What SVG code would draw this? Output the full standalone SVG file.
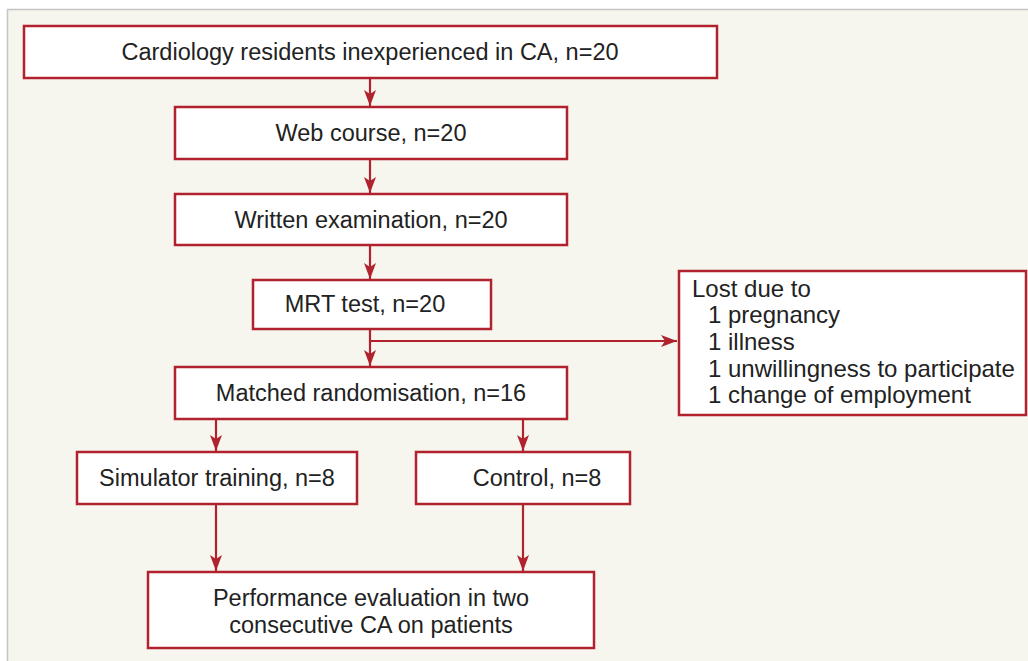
<svg xmlns="http://www.w3.org/2000/svg" width="1028" height="661" viewBox="0 0 1028 661">
<style>
.box{fill:#fff;stroke:#b0222e;stroke-width:2.5}
.t{font-family:"Liberation Sans",Arial,sans-serif;font-size:23.5px;fill:#222}
.c{text-anchor:middle}
.ln{stroke:#b0222e;stroke-width:2.2;fill:none}
</style>
<defs>
<marker id="ah" viewBox="0 0 16 12" refX="16" refY="6" markerWidth="16" markerHeight="12" orient="auto" markerUnits="userSpaceOnUse">
<path d="M0,0 L16,6 L0,12 L4,6 Z" fill="#b0222e"/>
</marker>
</defs>
<rect x="0" y="0" width="1028" height="661" fill="#fff"/>
<rect x="7.5" y="9.5" width="1025" height="660" fill="#f6f5ee" stroke="#c4c4c4" stroke-width="1.5"/>
<g id="connectors">
<line class="ln" x1="370" y1="78" x2="370" y2="106" marker-end="url(#ah)"/>
<line class="ln" x1="370" y1="159" x2="370" y2="193" marker-end="url(#ah)"/>
<line class="ln" x1="370" y1="245" x2="370" y2="279" marker-end="url(#ah)"/>
<line class="ln" x1="370" y1="329" x2="370" y2="366" marker-end="url(#ah)"/>
<line class="ln" x1="370" y1="341" x2="677" y2="341" marker-end="url(#ah)"/>
<line class="ln" x1="216" y1="419" x2="216" y2="451" marker-end="url(#ah)"/>
<line class="ln" x1="523" y1="419" x2="523" y2="451" marker-end="url(#ah)"/>
<line class="ln" x1="216" y1="504" x2="216" y2="571" marker-end="url(#ah)"/>
<line class="ln" x1="523" y1="504" x2="523" y2="571" marker-end="url(#ah)"/>
</g>
<g id="n1"><rect class="box" x="24" y="26" width="693" height="52"/><text class="t c" x="370" y="60">Cardiology residents inexperienced in CA, n=20</text></g>
<g id="n2"><rect class="box" x="175" y="107" width="392" height="52"/><text class="t c" x="371" y="141">Web course, n=20</text></g>
<g id="n3"><rect class="box" x="175" y="194" width="392" height="51"/><text class="t c" x="371" y="228">Written examination, n=20</text></g>
<g id="n4"><rect class="box" x="253" y="280" width="238" height="49"/><text class="t c" x="365" y="312">MRT test, n=20</text></g>
<g id="n5"><rect class="box" x="679" y="271" width="347" height="144"/>
<text class="t" x="692" y="297" style="font-size:24px">Lost due to</text>
<text class="t" x="708" y="323" style="font-size:24px">1 pregnancy</text>
<text class="t" x="708" y="350" style="font-size:24px">1 illness</text>
<text class="t" x="708" y="377" style="font-size:24px">1 unwillingness to participate</text>
<text class="t" x="708" y="403" style="font-size:24px">1 change of employment</text></g>
<g id="n6"><rect class="box" x="175" y="367" width="392" height="52"/><text class="t c" x="371" y="401">Matched randomisation, n=16</text></g>
<g id="n7"><rect class="box" x="77" y="452" width="280" height="52"/><text class="t c" x="217" y="486">Simulator training, n=8</text></g>
<g id="n8"><rect class="box" x="416" y="452" width="214" height="52"/><text class="t c" x="537" y="486">Control, n=8</text></g>
<g id="n9"><rect class="box" x="148" y="572" width="446" height="76"/><text class="t c" x="371" y="606">Performance evaluation in two</text><text class="t c" x="371" y="633">consecutive CA on patients</text></g>
</svg>
